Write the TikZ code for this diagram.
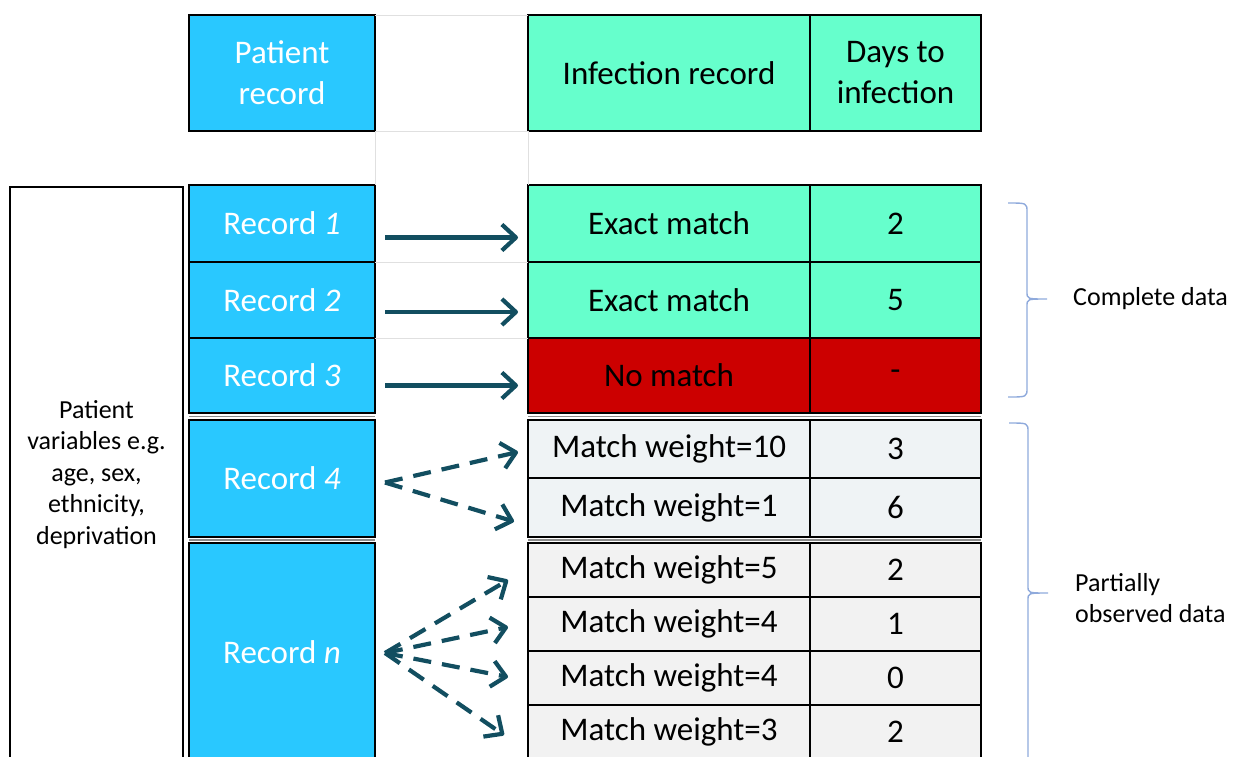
\documentclass[tikz,border=0pt]{standalone}
\usepackage{fontspec}
\setmainfont{Carlito}
\usetikzlibrary{positioning, arrows.meta}

\definecolor{recblue}{RGB}{41,200,255}
\definecolor{mint}{RGB}{102,255,204}
\definecolor{nomatch}{RGB}{204,0,0}
\definecolor{wgreyA}{RGB}{239,243,245}
\definecolor{wgreyB}{RGB}{242,242,242}
\definecolor{linkteal}{RGB}{18,78,96}
\definecolor{bracecol}{RGB}{143,170,220}

\begin{document}
\begin{tikzpicture}[x=1pt, y=-1pt,
    cell/.style={draw=black, line width=2pt, rectangle, outer sep=0pt, inner sep=2pt,
                 align=center, font=\fontsize{33}{41}\selectfont},
    rec/.style={cell, fill=recblue, text=white, minimum width=186pt},
    inf/.style={cell, fill=mint, minimum width=282pt},
    days/.style={cell, fill=mint, minimum width=171pt},
    wt/.style={cell, fill=wgreyB, minimum width=282pt},
    wdays/.style={cell, fill=wgreyB, minimum width=171pt},
    link/.style={-{Straight Barb[length=14pt, width=26pt, line join=round]}, line width=4.2pt, draw=linkteal},
    maybe/.style={link, dash pattern=on 18pt off 11pt},
    note/.style={font=\fontsize{26}{31.5}\selectfont, align=left, inner sep=0pt},
    curly/.style={draw=bracecol, line width=1.4pt},
    faint/.style={draw=black!12, line width=1pt},
    rule/.style={draw=black!45, line width=1.2pt}
]
\useasboundingbox (0,0) rectangle (1241,756);

\node[rec, minimum height=116pt, anchor=north west] (hpat) at (189,15) {Patient\\record};
\node[inf, minimum height=116pt, anchor=north west] (hinf) at (528,15) {Infection record};
\node[days, minimum height=116pt, right=0pt of hinf] (hdays) {Days to\\infection};

\node[cell, fill=white, line width=1.6pt, minimum width=173pt, minimum height=575pt,
      anchor=north west, font=\fontsize{26}{31.5}\selectfont] (vars) at (10,187)
      {Patient\\variables e.g.\\age, sex,\\ethnicity,\\deprivation};

\node[rec, minimum height=77pt, anchor=north west] (rec1) at (189,185) {Record \textit{1}};
\node[rec, minimum height=76pt, below=0pt of rec1] (rec2) {Record \textit{2}};
\node[rec, minimum height=75pt, below=0pt of rec2] (rec3) {Record \textit{3}};
\node[rec, minimum height=117pt, below=7pt of rec3] (rec4) {Record \textit{4}};
\node[rec, minimum height=218pt, below=6pt of rec4] (recn) {Record \textit{n}};

\node[inf, minimum height=77pt, anchor=north west] (m1) at (528,185) {Exact match};
\node[days, minimum height=77pt, right=0pt of m1] (d1) {2};
\node[inf, minimum height=76pt, below=0pt of m1] (m2) {Exact match};
\node[days, minimum height=76pt, right=0pt of m2] (d2) {5};
\node[inf, fill=nomatch, minimum height=75pt, below=0pt of m2] (m3) {No match};
\node[days, fill=nomatch, minimum height=75pt, right=0pt of m3] (d3) {-};

\node[wt, fill=wgreyA, minimum height=58pt, below=7pt of m3] (w1) {Match weight=10};
\node[wdays, fill=wgreyA, minimum height=58pt, right=0pt of w1] (dw1) {3};
\node[wt, fill=wgreyA, minimum height=59pt, below=0pt of w1] (w2) {Match weight=1};
\node[wdays, fill=wgreyA, minimum height=59pt, right=0pt of w2] (dw2) {6};
\node[wt, minimum height=54pt, below=6pt of w2] (w3) {Match weight=5};
\node[wdays, minimum height=54pt, right=0pt of w3] (dw3) {2};
\node[wt, minimum height=54pt, below=0pt of w3] (w4) {Match weight=4};
\node[wdays, minimum height=54pt, right=0pt of w4] (dw4) {1};
\node[wt, minimum height=54pt, below=0pt of w4] (w5) {Match weight=4};
\node[wdays, minimum height=54pt, right=0pt of w5] (dw5) {0};
\node[wt, minimum height=54pt, below=0pt of w5] (w6) {Match weight=3};
\node[wdays, minimum height=54pt, right=0pt of w6] (dw6) {2};

\draw[faint] (hpat.north east) -- (hinf.north west);
\draw[faint] (hpat.south east) -- (hinf.south west);
\draw[faint] (hpat.south east) -- (rec1.north east);
\draw[faint] (hinf.south west) -- (m1.north west);
\draw[faint] (rec2.north east) -- (m2.north west);
\draw[faint] (rec3.north east) -- (m3.north west);
\draw[rule] ([yshift=-3.5pt]rec3.south west) -- ([yshift=-3.5pt]rec3.south east);
\draw[rule] ([yshift=-3.5pt]m3.south west) -- ([yshift=-3.5pt]d3.south east);
\draw[rule] ([yshift=-3pt]rec4.south west) -- ([yshift=-3pt]rec4.south east);
\draw[rule] ([yshift=-3pt]w2.south west) -- ([yshift=-3pt]dw2.south east);

\draw[link] ([xshift=10pt, yshift=-14pt]rec1.east) -- ([xshift=-10pt, yshift=-14pt]m1.west);
\draw[link] ([xshift=10pt, yshift=-12pt]rec2.east) -- ([xshift=-10pt, yshift=-12pt]m2.west);
\draw[link] ([xshift=10pt, yshift=-10pt]rec3.east) -- ([xshift=-10pt, yshift=-10pt]m3.west);

\draw[maybe] ([xshift=10pt, yshift=-4pt]rec4.east) -- ([xshift=-10pt, yshift=-3pt]w1.west);
\draw[maybe] ([xshift=10pt, yshift=-4pt]rec4.east) -- ([xshift=-14pt, yshift=-14pt]w2.west);
\draw[maybe] ([xshift=10pt, yshift=-1pt]recn.east) -- ([xshift=-20pt, yshift=-10pt]w3.west);
\draw[maybe] ([xshift=10pt, yshift=-1pt]recn.east) -- ([xshift=-20pt, yshift=-3pt]w4.west);
\draw[maybe] ([xshift=10pt, yshift=-1pt]recn.east) -- ([xshift=-20pt, yshift=1pt]w5.west);
\draw[maybe] ([xshift=10pt, yshift=-1pt]recn.east) -- ([xshift=-24pt, yshift=-3pt]w6.west);

\draw[curly] (1008,203) .. controls (1027,203) .. (1027,212) -- (1027,292)
    .. controls (1027,299) .. (1047,299) .. controls (1027,299) .. (1027,306)
    -- (1027,388) .. controls (1027,397) .. (1008,397);
\draw[curly] (1009,423) .. controls (1028,423) .. (1028,432) -- (1028,586)
    .. controls (1028,593) .. (1048,593) .. controls (1028,593) .. (1028,600)
    -- (1028,770);

\node[note, anchor=west] (complete) at (1073,299) {Complete data};
\node[note, anchor=west] (partial) at (1075,598) {Partially\\observed data};
\end{tikzpicture}
\end{document}
